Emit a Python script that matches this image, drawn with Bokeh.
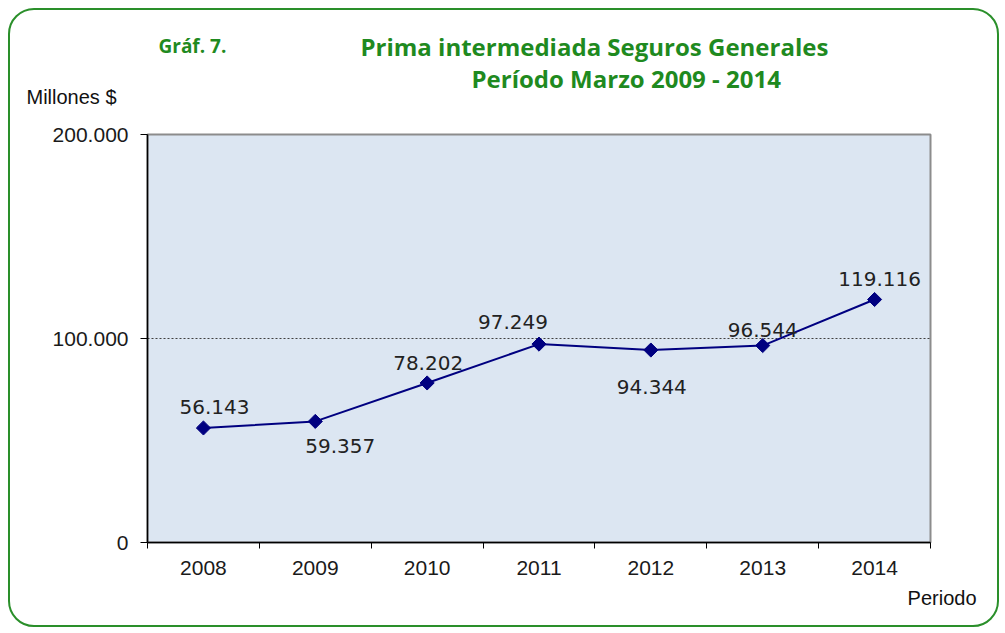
import math
from bokeh.plotting import figure
from bokeh.models import Range1d, FixedTicker, Title
from bokeh.core.properties import value
from bokeh.embed import file_html
from bokeh.resources import INLINE

# ---- data ----
years = ["2008", "2009", "2010", "2011", "2012", "2013", "2014"]
prima = [56143, 59357, 78202, 97249, 94344, 96544, 119116]
y_ticks = [0, 100000, 200000]
y_tick_labels = ["0", "100.000", "200.000"]
title_1 = "Prima intermediada  Seguros Generales"
title_2 = "Período Marzo 2009 - 2014"
graf_label = "Gráf. 7."
y_title = "Millones $"
x_title = "Periodo"

# ---- layout / style ----
label_dx = [11, 25, 1, -26, 1, 0, 5]
label_dy = [-21, 25, -20, -22, 37, -16, -21]
GREEN = "#1F8A1F"
AXIS_FONT = "Liberation Sans"
TITLE_FONT = "Open Sans"
W, H = 991, 619
FRAME_L, FRAME_T, FRAME_W, FRAME_H = 137, 124, 783, 408

n = len(years)
xs = [i + 0.5 for i in range(n)]
label_text = [f"{v:,}".replace(",", ".") for v in prima]

p = figure(width=W, height=H, output_backend="svg", toolbar_location=None,
           x_range=Range1d(0, n), y_range=Range1d(0, 200000),
           min_border_left=FRAME_L, min_border_right=W - FRAME_L - FRAME_W,
           min_border_top=FRAME_T, min_border_bottom=H - FRAME_T - FRAME_H)
p.styles = {"border": "2px solid #2A8F2A", "border-radius": "26px",
            "margin-left": "8px", "margin-top": "8px"}
p.border_fill_color = None
p.background_fill_color = "#DCE6F2"
p.outline_line_color = "#8C8C8C"
p.outline_line_width = 2

# x axis: ticks at category boundaries (minor), labels at centers (major)
xa = p.xaxis[0]
xa.ticker = FixedTicker(ticks=xs, minor_ticks=list(range(n + 1)))
xa.major_label_overrides = {x: y for x, y in zip(xs, years)}
xa.major_tick_out = 0
xa.major_tick_in = 0
xa.minor_tick_out = 6
xa.minor_tick_in = 0
xa.minor_tick_line_color = "#000000"
xa.major_label_standoff = 12
xa.axis_line_color = "#000000"
xa.axis_line_width = 1.5

ya = p.yaxis[0]
ya.ticker = FixedTicker(ticks=y_ticks)
ya.major_label_overrides = {t: l for t, l in zip(y_ticks, y_tick_labels)}
ya.major_tick_out = 7
ya.major_tick_in = 0
ya.minor_tick_out = 0
ya.minor_tick_in = 0
ya.major_label_standoff = 12
ya.axis_line_color = "#000000"
ya.axis_line_width = 1.5

for ax in (xa, ya):
    ax.major_label_text_font = AXIS_FONT
    ax.major_label_text_font_size = "21px"
    ax.major_label_text_color = "#1A1A1A"
    ax.major_tick_line_color = "#000000"

p.xgrid.visible = False
p.ygrid.ticker = FixedTicker(ticks=[100000])
p.ygrid.grid_line_color = "#404040"
p.ygrid.grid_line_dash = "2 2"
p.ygrid.grid_line_width = 1

# series
p.line(xs, prima, line_color="#000080", line_width=2)
p.scatter(xs, prima, marker="square", angle=math.pi / 4, size=10,
          fill_color="#000080", line_color="#000080")
p.text(xs, prima, text=label_text, x_offset=label_dx, y_offset=label_dy,
       text_align="center", text_baseline="middle",
       text_font=value("DejaVu Sans"), text_font_size="20px",
       text_color="#222222")

# titles stacked above the frame (first = nearest the frame)
def ttl(txt, place, offset, standoff, size, color, font, style="normal",
        align="left"):
    p.add_layout(Title(text=txt, align=align, offset=offset, standoff=standoff,
                       text_font=font, text_font_size=size, text_color=color,
                       text_font_style=style), place)

ttl(y_title, "above", -121, 54, "20px", "#111111", AXIS_FONT)
ttl(title_2, "above", 324, -76, "24px", GREEN, TITLE_FONT, "bold")
ttl(title_1, "above", 213, -12, "24px", GREEN, TITLE_FONT, "bold")
ttl(graf_label, "above", 11, -51, "19px", GREEN, TITLE_FONT, "bold")
ttl(x_title, "below", -46, 14, "20px", "#111111", AXIS_FONT, align="right")

open("out.html", "w").write(file_html(p, INLINE))
